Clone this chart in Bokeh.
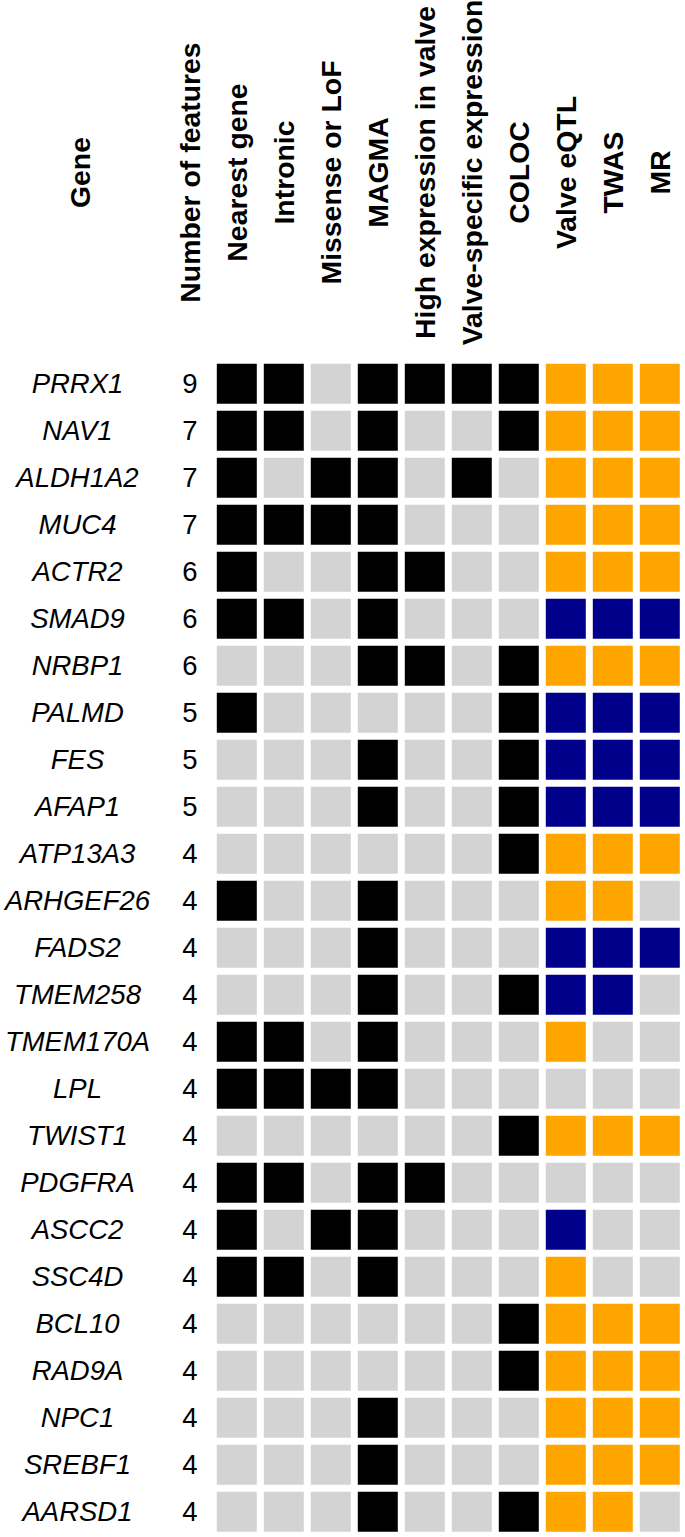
import math
from bokeh.plotting import figure
from bokeh.models import Range1d, ColumnDataSource
from bokeh.core.properties import value
from bokeh.embed import file_html
from bokeh.resources import INLINE

# ---------------- data ----------------
genes = ["PRRX1", "NAV1", "ALDH1A2", "MUC4", "ACTR2", "SMAD9", "NRBP1", "PALMD",
         "FES", "AFAP1", "ATP13A3", "ARHGEF26", "FADS2", "TMEM258", "TMEM170A",
         "LPL", "TWIST1", "PDGFRA", "ASCC2", "SSC4D", "BCL10", "RAD9A", "NPC1",
         "SREBF1", "AARSD1"]
n_features = [9, 7, 7, 7, 6, 6, 6, 5, 5, 5, 4, 4, 4, 4, 4, 4, 4, 4, 4, 4, 4, 4, 4, 4, 4]

features = ["Nearest gene", "Intronic", "Missense or LoF", "MAGMA",
            "High expression in valve", "Valve-specific expression", "COLOC",
            "Valve eQTL", "TWAS", "MR"]

# binary features (1 = supported)
nearest_gene  = [1,1,1,1,1,1,0,1,0,0,0,1,0,0,1,1,0,1,1,1,0,0,0,0,0]
intronic      = [1,1,0,1,0,1,0,0,0,0,0,0,0,0,1,1,0,1,0,1,0,0,0,0,0]
missense_lof  = [0,0,1,1,0,0,0,0,0,0,0,0,0,0,0,1,0,0,1,0,0,0,0,0,0]
magma         = [1,1,1,1,1,1,1,0,1,1,0,1,1,1,1,1,0,1,1,1,0,0,1,1,1]
high_expr     = [1,0,0,0,1,0,1,0,0,0,0,0,0,0,0,0,0,1,0,0,0,0,0,0,0]
valve_spec    = [1,0,1,0,0,0,0,0,0,0,0,0,0,0,0,0,0,0,0,0,0,0,0,0,0]
coloc         = [1,1,0,0,0,0,1,1,1,1,1,0,0,1,0,0,1,0,0,0,1,1,0,0,1]

# directional features: "up" (orange), "down" (blue), "" (none)
valve_eqtl = ["up","up","up","up","up","down","up","down","down","down","up","up","down",
              "down","up","","up","","down","up","up","up","up","up","up"]
twas       = ["up","up","up","up","up","down","up","down","down","down","up","up","down",
              "down","","","up","","","","up","up","up","up","up"]
mr         = ["up","up","up","up","up","down","up","down","down","down","up","","down",
              "","","","up","","","","up","up","up","up",""]

binary_cols = [nearest_gene, intronic, missense_lof, magma, high_expr, valve_spec, coloc]
dir_cols = [valve_eqtl, twas, mr]

BIN_COLORS = {1: "#000000", 0: "#D3D3D3"}
DIR_COLORS = {"up": "#FFA500", "down": "#00008B", "": "#D3D3D3"}

# ---------------- layout ----------------
W, H = 685, 1537
PX = 47.0          # column pitch in px
PY = 47.0          # row pitch in px
x0 = 1 - 236.3 / PX
y_top = -383.3 / PY

p = figure(width=W, height=H,
           x_range=Range1d(x0, x0 + W / PX),
           y_range=Range1d(y_top + H / PY, y_top),
           output_backend="svg", toolbar_location=None, min_border=0,
           x_axis_location=None, y_axis_location=None)
p.grid.visible = False
p.outline_line_color = None
p.background_fill_color = "white"
p.border_fill_color = "white"

xs, ys, cs = [], [], []
for j, col in enumerate(binary_cols):
    for i, v in enumerate(col):
        xs.append(j + 1); ys.append(i); cs.append(BIN_COLORS[v])
for j, col in enumerate(dir_cols):
    for i, v in enumerate(col):
        xs.append(j + 1 + len(binary_cols)); ys.append(i); cs.append(DIR_COLORS[v])

src = ColumnDataSource(dict(x=xs, y=ys, c=cs))
p.rect(x="x", y="y", width=40 / PX, height=40 / PY, fill_color="c",
       line_color=None, source=src)

rows = list(range(len(genes)))
FONT = value("Liberation Sans")

gene_x = x0 + 77.0 / PX
p.text(x=[gene_x] * len(genes), y=rows, text=genes, text_font=FONT,
       text_font_style="italic", text_font_size="27.5px",
       text_align="center", text_baseline="middle", text_color="black")
p.text(x=[0] * len(genes), y=rows, text=[str(n) for n in n_features],
       text_font=FONT, text_font_size="27.5px",
       text_align="center", text_baseline="middle", text_color="black")

headers = ["Gene", "Number of features"] + features
hx = [x0 + 79.0 / PX, 0] + list(range(1, len(features) + 1))
hy_val = y_top + 172.0 / PY
p.text(x=hx, y=[hy_val] * len(headers), text=headers, angle=math.pi / 2,
       text_font=FONT, text_font_style="bold", text_font_size="28.4px",
       text_align="center", text_baseline="middle", text_color="black")

open("out.html", "w").write(file_html(p, INLINE))
